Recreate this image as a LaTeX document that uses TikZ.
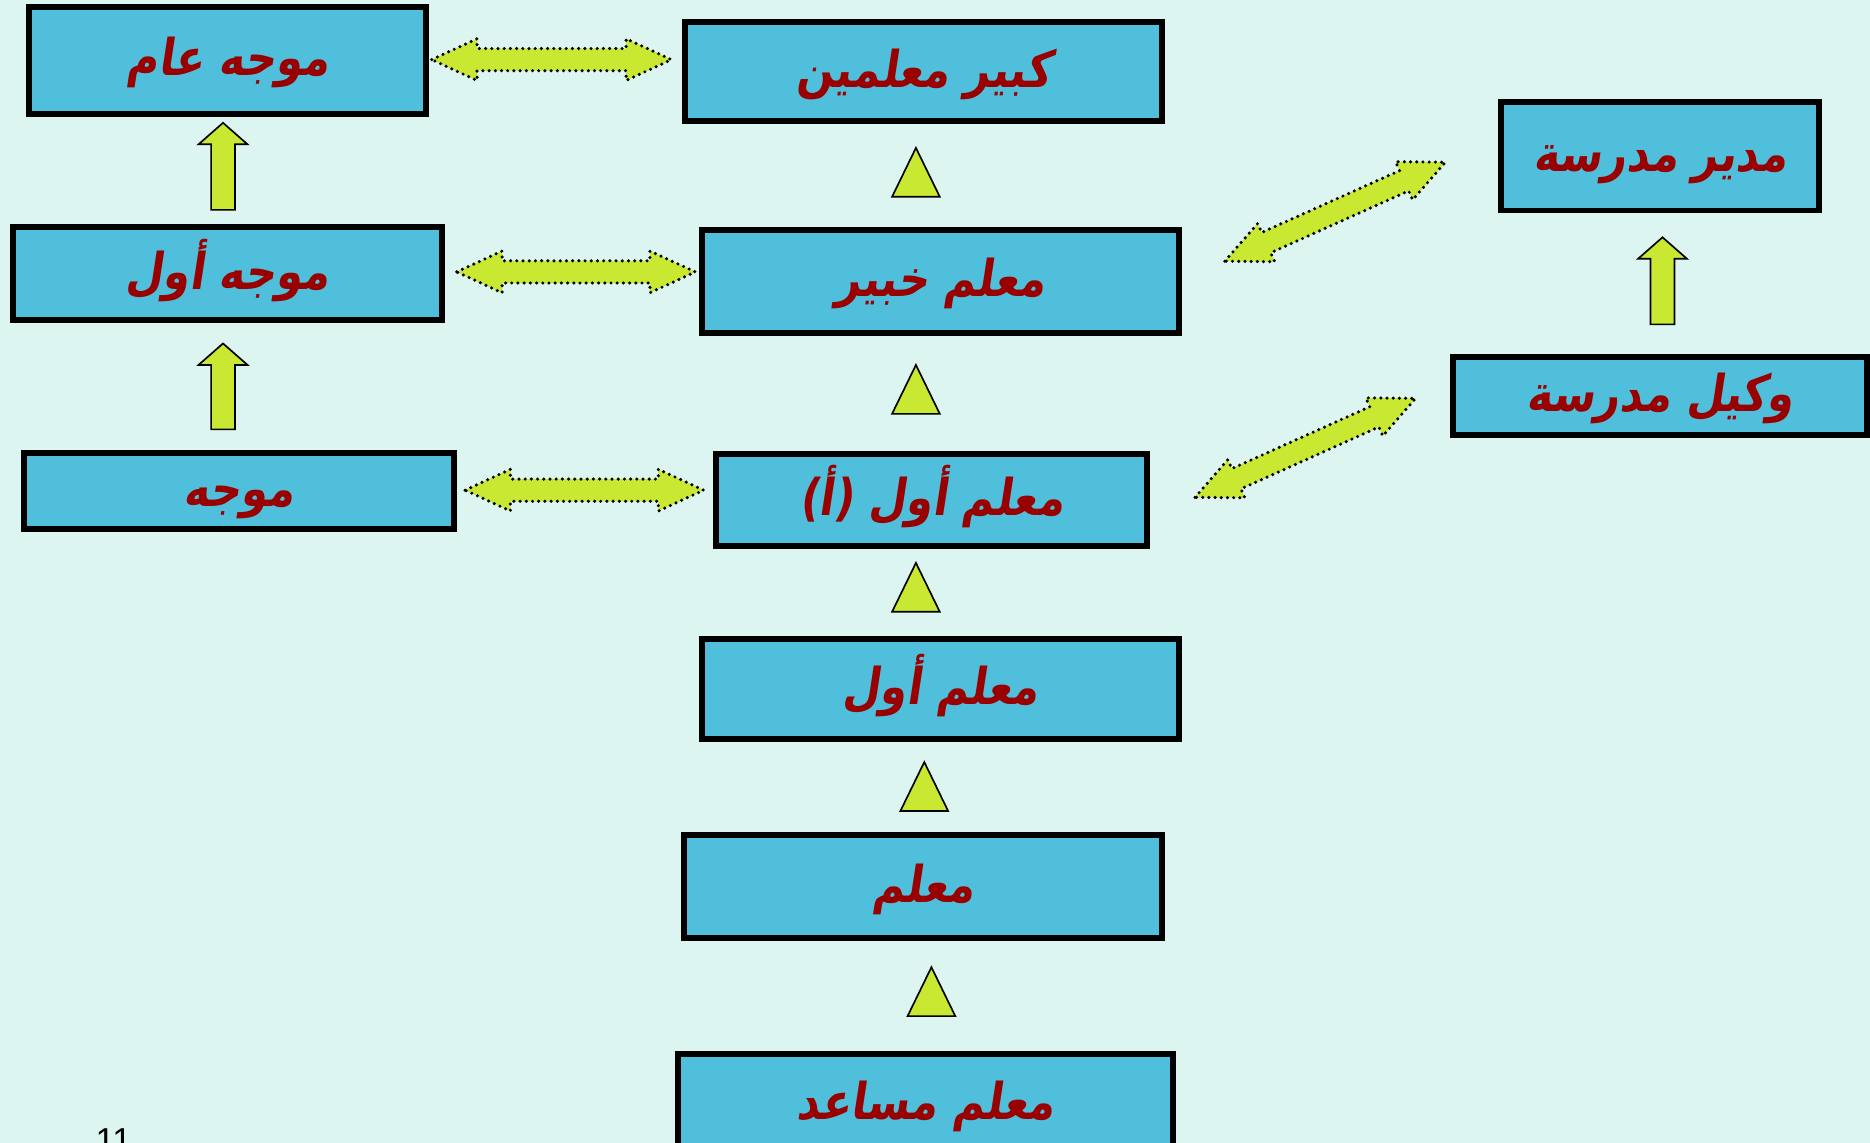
\documentclass[tikz,border=0pt]{standalone}
\usepackage{fontspec}
\usepackage{graphicx}
\setmainfont{Liberation Sans}
\usetikzlibrary{calc}
\TeXXeTstate=1
\newfontfamily\arabicfont[Script=Arabic,FakeSlant=0.18]{DejaVu Sans}
\definecolor{bgcol}{RGB}{221,245,240}
\definecolor{boxcol}{RGB}{80,191,220}
\definecolor{limecol}{RGB}{200,232,50}
\definecolor{txtcol}{RGB}{153,0,0}
\newcommand\artxt{\arabicfont\bfseries\fontsize{36}{40}\selectfont}
\newcommand\ar[1]{\scalebox{1}[1.18]{\beginR #1\endR}}
\tikzset{
  rr/.style={shift={(\p1)},rotate=\n1},
  box/.style={draw=black, line width=5pt, fill=boxcol, inner sep=0pt, font=\artxt, text=txtcol,
    text height=36pt, text depth=10pt},
  dblarrow/.style={fill=limecol, draw=black, line width=2.9pt, dash pattern=on 0pt off 5.2pt, line cap=round, line join=round,
    to path={let \p1=(\tikztostart),\p2=(\tikztotarget),\n1={atan2(\y2-\y1,\x2-\x1)},\n2={veclen(\x2-\x1,\y2-\y1)} in
      ([rr]0pt,0pt)
      -- ([rr]38pt,17.5pt)
      -- ([rr]38pt,9.3pt)
      -- ([rr]\n2-38pt,9.3pt)
      -- ([rr]\n2-38pt,17.5pt)
      -- ([rr]\n2+0pt,0pt)
      -- ([rr]\n2-38pt,-17.5pt)
      -- ([rr]\n2-38pt,-9.3pt)
      -- ([rr]38pt,-9.3pt)
      -- ([rr]38pt,-17.5pt)
      -- cycle}},
  uparrow/.style={fill=limecol, draw=black, line width=1.4pt, line join=miter,
    to path={let \p1=(\tikztostart),\p2=(\tikztotarget),\n1={atan2(\y2-\y1,\x2-\x1)},\n2={veclen(\x2-\x1,\y2-\y1)} in
      ([rr]0pt,-10pt)
      -- ([rr]\n2-18pt,-10pt)
      -- ([rr]\n2-18pt,-20.5pt)
      -- ([rr]\n2+0pt,0pt)
      -- ([rr]\n2-18pt,20.5pt)
      -- ([rr]\n2-18pt,10pt)
      -- ([rr]0pt,10pt)
      -- cycle}},
  tri/.style={fill=limecol, draw=black, line width=1.4pt, line join=miter,
    to path={let \p1=(\tikztostart),\p2=(\tikztotarget),\n1={atan2(\y2-\y1,\x2-\x1)},\n2={veclen(\x2-\x1,\y2-\y1)} in
      ([rr]0pt,-20pt)
      -- ([rr]\n2+0pt,0pt)
      -- ([rr]0pt,20pt)
      -- cycle}},
}
\begin{document}
\begin{tikzpicture}[x=1pt,y=-1pt]
\fill[bgcol] (0,0) rectangle (1568,958);
\useasboundingbox (0,0) rectangle (1568,958);

% boxes
\node[box, minimum width=333, minimum height=90] (mAam) at (191,50.5) {\ar{موجه عام}};
\node[box, minimum width=400, minimum height=83] (kabir) at (774.5,60) {\ar{كبير معلمين}};
\node[box, minimum width=267, minimum height=91] (mudir) at (1392,131) {\ar{مدير مدرسة}};
\node[box, minimum width=360, minimum height=78] (mAwwal) at (190.5,229.5) {\ar{موجه أول}};
\node[box, minimum width=400, minimum height=87] (khabir) at (788.5,236) {\ar{معلم خبير}};
\node[box, minimum width=347, minimum height=65] (wakil) at (1392,332) {\ar{وكيل مدرسة}};
\node[box, minimum width=360, minimum height=64] (muwaj) at (200.5,411.5) {\ar{موجه}};
\node[box, minimum width=361, minimum height=77] (awwalA) at (781,419) {\ar{معلم أول (أ)}};
\node[box, minimum width=400, minimum height=84] (awwal) at (788.5,577.5) {\ar{معلم أول}};
\node[box, minimum width=401, minimum height=86] (muallim) at (774,743.5) {\ar{معلم}};
\node[box, minimum width=415, minimum height=85] (musaid) at (776,926) {\ar{معلم مساعد}};

% page number
\node[anchor=base west, inner sep=0pt, font=\fontsize{29}{32}\selectfont] (pnum) at (80,966) {11};

% arrow end points
\coordinate (h1a) at (362,50);   \coordinate (h1b) at (563,50);
\coordinate (h2a) at (383,228);  \coordinate (h2b) at (583,228);
\coordinate (h3a) at (390,411);  \coordinate (h3b) at (590,411);
\coordinate (d1a) at (1027,219); \coordinate (d1b) at (1212,136);
\coordinate (d2a) at (1002,417); \coordinate (d2b) at (1187,334);
\coordinate (u1a) at (187,176);  \coordinate (u1b) at (187,103);
\coordinate (u2a) at (187,360);  \coordinate (u2b) at (187,288);
\coordinate (u3a) at (1394,272); \coordinate (u3b) at (1394,199);
\coordinate (t1a) at (768,165);  \coordinate (t1b) at (768,124);
\coordinate (t2a) at (768,347);  \coordinate (t2b) at (768,306);
\coordinate (t3a) at (768,513);  \coordinate (t3b) at (768,472);
\coordinate (t4a) at (775,680);  \coordinate (t4b) at (775,639);
\coordinate (t5a) at (781,852);  \coordinate (t5b) at (781,811);

% dotted double arrows
\draw[dblarrow] (h1a) to (h1b);
\draw[dblarrow] (h2a) to (h2b);
\draw[dblarrow] (h3a) to (h3b);
\draw[dblarrow] (d1a) to (d1b);
\draw[dblarrow] (d2a) to (d2b);

% block up arrows
\draw[uparrow] (u1a) to (u1b);
\draw[uparrow] (u2a) to (u2b);
\draw[uparrow] (u3a) to (u3b);

% triangles
\draw[tri] (t1a) to (t1b);
\draw[tri] (t2a) to (t2b);
\draw[tri] (t3a) to (t3b);
\draw[tri] (t4a) to (t4b);
\draw[tri] (t5a) to (t5b);
\end{tikzpicture}
\end{document}
